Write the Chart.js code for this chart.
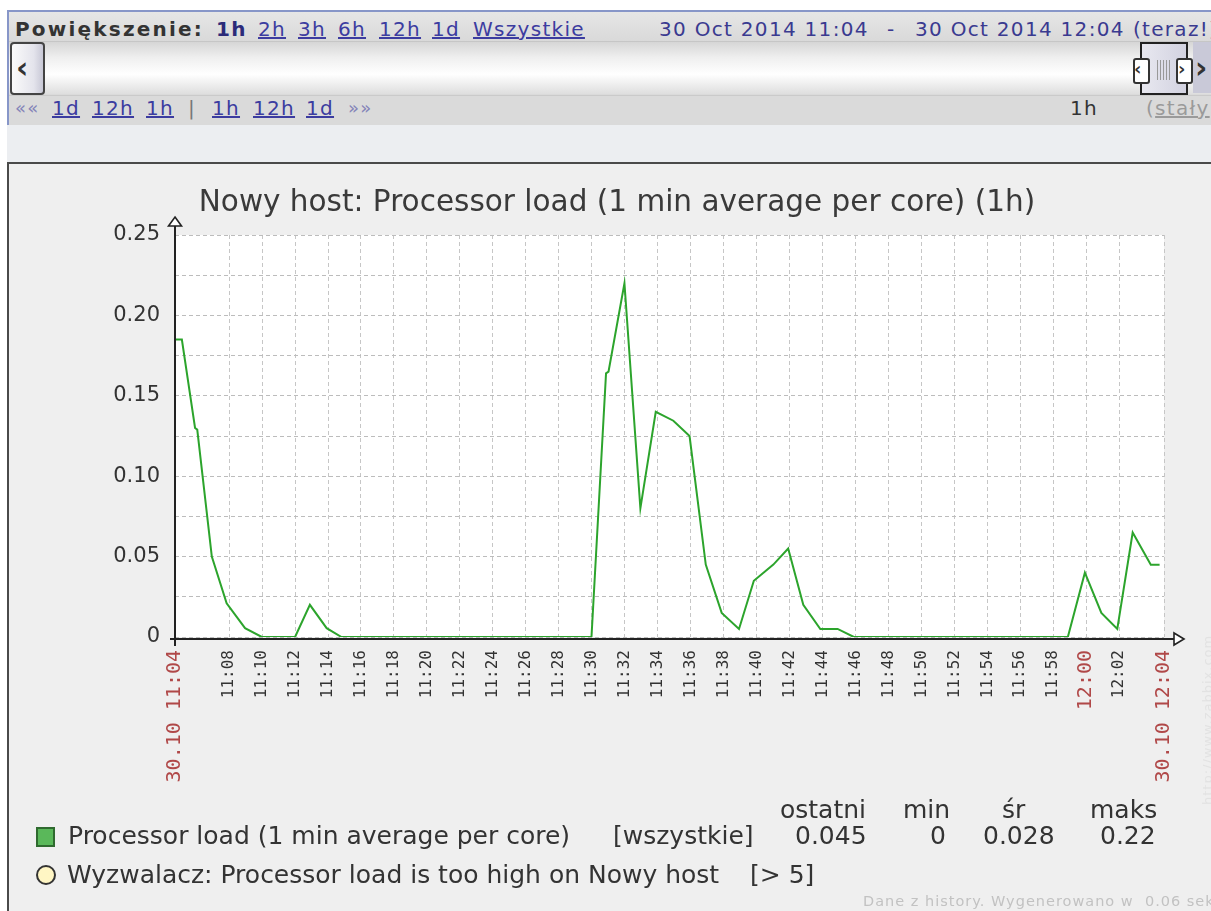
<!DOCTYPE html>
<html><head><meta charset="utf-8">
<script src="https://cdn.jsdelivr.net/npm/chart.js@4/dist/chart.umd.min.js"></script>
<style>
html,body{margin:0;padding:0;width:1211px;height:911px;overflow:hidden;background:#fff;font-family:"DejaVu Sans",sans-serif;}
.t{position:absolute;white-space:nowrap;}
.nav{font-size:20px;line-height:24px;letter-spacing:1.3px;}
.lnk{color:#3c3ca0;text-decoration:underline;}
#navbox{position:absolute;left:7px;top:10px;width:1230px;height:113px;border:2px solid #8796c8;background:#dadada;}
#r1{position:absolute;left:0;top:0;width:100%;height:29px;background:linear-gradient(#e6e6e6,#d9d9d9);border-bottom:1px solid #c6c6c6;}
#r2{position:absolute;left:0;top:30px;width:100%;height:52px;background:linear-gradient(#d6d6d6 0%,#efefef 30%,#ffffff 62%,#dedede 100%);}
#r3{position:absolute;left:0;top:83px;width:100%;height:30px;background:#dadada;border-top:1px solid #cacaca;}
#gap{position:absolute;left:7px;top:125px;width:1204px;height:37px;background:#eceef1;}
#box{position:absolute;left:7px;top:162px;width:1210px;height:760px;border-left:2px solid #4a4a4a;border-top:2px solid #4a4a4a;background:#efefef;}
#cv{position:absolute;left:9px;top:164px;}
.lg{font-size:25px;line-height:30px;color:#333;}
</style></head>
<body>
<div id="navbox"><div id="r1"></div><div id="r2"></div><div id="r3"></div></div>
<!-- scrollbar left button -->
<div class="t" style="left:10px;top:42px;width:31px;height:49px;border:2px solid #444;border-radius:4px;background:linear-gradient(90deg,#fafafa,#e4e4ec 70%,#c8c8d6);"></div>
<div class="t" style="left:16px;top:50px;font:bold 30px 'DejaVu Sans';color:#333;">&lsaquo;</div>
<!-- slider handle -->
<div class="t" style="left:1140px;top:42px;width:44px;height:49px;border:2px solid #222;background:linear-gradient(90deg,#e8e8f0,#d2d2e0);"></div>
<div class="t" style="left:1157px;top:60px;width:15px;height:20px;background:repeating-linear-gradient(90deg,#999 0 1px,transparent 1px 3px);"></div>
<div class="t" style="left:1133px;top:58px;width:13px;height:22px;border:2px solid #333;border-radius:3px;background:#fff;"></div>
<div class="t" style="left:1134px;top:56px;font:bold 18px 'DejaVu Sans';color:#333;line-height:26px;">&lsaquo;</div>
<div class="t" style="left:1176px;top:58px;width:13px;height:22px;border:2px solid #333;border-radius:3px;background:#fff;"></div>
<div class="t" style="left:1178px;top:56px;font:bold 18px 'DejaVu Sans';color:#333;line-height:26px;">&rsaquo;</div>
<div class="t" style="left:1193px;top:42px;width:20px;height:51px;background:#c9c9d8;"></div>
<div class="t" style="left:1195px;top:50px;font:bold 30px 'DejaVu Sans';color:#333;">&rsaquo;</div>
<!-- row 1 -->
<div class="t nav" style="left:15px;top:17px;font-weight:bold;color:#333;letter-spacing:2.2px;">Powiększenie:</div>
<div class="t nav" style="left:216px;top:17px;font-weight:bold;color:#2b2b7a;">1h</div>
<div class="t nav lnk" style="left:258px;top:17px;">2h</div>
<div class="t nav lnk" style="left:298px;top:17px;">3h</div>
<div class="t nav lnk" style="left:338px;top:17px;">6h</div>
<div class="t nav lnk" style="left:379px;top:17px;">12h</div>
<div class="t nav lnk" style="left:432px;top:17px;">1d</div>
<div class="t nav lnk" style="left:473px;top:17px;">Wszystkie</div>
<div class="t nav" style="left:659px;top:17px;color:#3a3a90;">30 Oct 2014 11:04</div>
<div class="t nav" style="left:887px;top:17px;color:#3a3a90;">-</div>
<div class="t nav" style="left:915px;top:17px;color:#3a3a90;">30 Oct 2014 12:04</div>
<div class="t nav" style="left:1133px;top:17px;color:#3a3a90;">(teraz!)</div>
<!-- row 3 -->
<div class="t nav" style="left:15px;top:96px;color:#8484b8;font-size:18px;">««</div>
<div class="t nav lnk" style="left:52px;top:96px;">1d</div>
<div class="t nav lnk" style="left:92px;top:96px;">12h</div>
<div class="t nav lnk" style="left:146px;top:96px;">1h</div>
<div class="t nav" style="left:188px;top:96px;color:#777;">|</div>
<div class="t nav lnk" style="left:212px;top:96px;">1h</div>
<div class="t nav lnk" style="left:253px;top:96px;">12h</div>
<div class="t nav lnk" style="left:306px;top:96px;">1d</div>
<div class="t nav" style="left:348px;top:96px;color:#8484b8;font-size:18px;">»»</div>
<div class="t nav" style="left:1070px;top:96px;color:#333;">1h</div>
<div class="t nav" style="left:1146px;top:96px;color:#9a9a9a;">(<span style="text-decoration:underline">stały</span>)</div>

<div id="gap"></div>
<div id="box"></div>
<canvas id="cv" width="1202" height="747"></canvas>

<div class="t" id="title" style="left:617px;top:183px;transform:translateX(-50%);font-size:29.5px;line-height:36px;color:#3a3a3a;">Nowy host: Processor load (1 min average per core) (1h)</div>

<div class="t lg" style="left:780px;top:795px;" id="h0"></div>
<div class="t lg" style="left:903px;top:795px;" id="h1"></div>
<div class="t lg" style="left:1002px;top:795px;" id="h2"></div>
<div class="t lg" style="left:1090px;top:795px;" id="h3"></div>
<div class="t" style="left:36px;top:827px;width:15px;height:16px;background:#5ab85a;border:2px solid #2f6a2f;"></div>
<div class="t lg" style="left:68px;top:821px;" id="s0"></div>
<div class="t lg" style="left:613px;top:821px;">[wszystkie]</div>
<div class="t lg" style="left:795px;top:821px;" id="v0"></div>
<div class="t lg" style="left:930px;top:821px;" id="v1"></div>
<div class="t lg" style="left:983px;top:821px;" id="v2"></div>
<div class="t lg" style="left:1100px;top:821px;" id="v3"></div>
<div class="t" style="left:36px;top:865px;width:16px;height:16px;border-radius:50%;background:#fff6c4;border:2px solid #333;"></div>
<div class="t lg" style="left:67px;top:860px;">Wyzwalacz: Processor load is too high on Nowy host</div>
<div class="t lg" style="left:750px;top:860px;">[&gt; 5]</div>
<div class="t" style="left:863px;top:892px;font-size:14.5px;line-height:18px;letter-spacing:1px;white-space:pre;color:#c2c2c2;">Dane z history. Wygenerowano w  0.06 sek</div>
<div class="t" style="left:1201px;top:805px;font-size:13px;line-height:14px;letter-spacing:1px;color:#e2e2e2;transform:rotate(-90deg);transform-origin:left top;">http://www.zabbix.com</div>

<script>
// ---- data ----
const seriesName = "Processor load (1 min average per core)";
const times = ["11:04:43","11:05:08","11:05:56","11:06:04","11:06:57","11:07:51","11:08:58","11:09:59",
  "11:10:59","11:12:00","11:12:54","11:13:55","11:14:49","11:15:55","11:16:55","11:17:55","11:18:55",
  "11:19:55","11:20:55","11:21:55","11:22:55","11:23:55","11:24:55","11:25:55","11:26:55","11:27:55",
  "11:28:55","11:29:59","11:30:52","11:31:01","11:31:59","11:32:57","11:33:53","11:34:57","11:35:56",
  "11:36:55","11:37:53","11:38:56","11:39:50","11:41:01","11:41:55","11:42:50","11:43:52","11:44:55",
  "11:45:54","11:46:55","11:47:55","11:48:55","11:49:55","11:50:55","11:51:55","11:52:55","11:53:55",
  "11:54:55","11:55:55","11:56:55","11:57:55","11:58:53","11:59:55","12:00:55","12:01:53","12:02:49",
  "12:03:55","12:04:27"];
const load = [0.185,0.185,0.130,0.129,0.050,0.021,0.0055,0,
  0,0,0.020,0.0055,0,0,0,0,0,
  0,0,0,0,0,0,0,0,0,
  0,0,0.164,0.165,0.220,0.080,0.140,0.1345,0.125,
  0.045,0.015,0.005,0.035,0.045,0.055,0.020,0.005,0.005,
  0,0,0,0,0,0,0,0,0,
  0,0,0,0,0,0.040,0.015,0.005,0.065,
  0.045,0.045];
const rangeStart = "11:04:43";
const rangeEnd = "12:04:43";
const xTickTimes = ["11:04:43","11:08:00","11:10:00","11:12:00","11:14:00","11:16:00","11:18:00","11:20:00",
  "11:22:00","11:24:00","11:26:00","11:28:00","11:30:00","11:32:00","11:34:00","11:36:00","11:38:00",
  "11:40:00","11:42:00","11:44:00","11:46:00","11:48:00","11:50:00","11:52:00","11:54:00","11:56:00",
  "11:58:00","12:00:00","12:02:00","12:04:43"];
const xTickLabels = ["30.10 11:04","11:08","11:10","11:12","11:14","11:16","11:18","11:20",
  "11:22","11:24","11:26","11:28","11:30","11:32","11:34","11:36","11:38",
  "11:40","11:42","11:44","11:46","11:48","11:50","11:52","11:54","11:56",
  "11:58","12:00","12:02","30.10 12:04"];
const redTickLabels = ["30.10 11:04","12:00","30.10 12:04"];
const yTicks = [0,0.025,0.05,0.075,0.10,0.125,0.15,0.175,0.20,0.225,0.25];
const yTickLabels = ["0","","0.05","","0.10","","0.15","","0.20","","0.25"];
const statHeaders = ["ostatni","min","śr","maks"];
const statValues = ["0.045","0","0.028","0.22"];

// ---- legend text ----
document.getElementById('s0').textContent = seriesName;
statHeaders.forEach((h,i)=>document.getElementById('h'+i).textContent=h);
statValues.forEach((v,i)=>document.getElementById('v'+i).textContent=v);

const toMin = s => { const [h,m,sec] = s.split(':').map(Number); return h*60 + m + sec/60 - 660; };
const points = times.map((t,i)=>({x: toMin(t), y: load[i]}));
const xTickVals = xTickTimes.map(toMin);

const bgPlugin = {
  id:'bg',
  beforeDraw(chart){
    const {ctx, chartArea:{left,top,right,bottom}} = chart;
    ctx.save(); ctx.fillStyle='#ffffff'; ctx.fillRect(left,top,right-left,bottom-top); ctx.restore();
  }
};
const axesPlugin = {
  id:'axes',
  afterDatasetsDraw(chart){
    const {ctx, chartArea:{left,top,right,bottom}} = chart;
    const ay = bottom + 2;
    ctx.save();
    ctx.strokeStyle='#222'; ctx.lineWidth=2;
    ctx.beginPath(); ctx.moveTo(left, bottom+9); ctx.lineTo(left, top-9); ctx.stroke();
    ctx.beginPath(); ctx.moveTo(left-5, ay); ctx.lineTo(right+10, ay); ctx.stroke();
    ctx.fillStyle='#fff'; ctx.lineWidth=1.6; ctx.lineJoin='miter';
    ctx.beginPath(); ctx.moveTo(left, top-18); ctx.lineTo(left+6.5, top-9); ctx.lineTo(left-6.5, top-9); ctx.closePath(); ctx.fill(); ctx.stroke();
    ctx.beginPath(); ctx.moveTo(right+20, ay); ctx.lineTo(right+10, ay-6); ctx.lineTo(right+10, ay+6); ctx.closePath(); ctx.fill(); ctx.stroke();
    ctx.restore();
  }
};

const isRed = idx => redTickLabels.includes(xTickLabels[idx]);

new Chart(document.getElementById('cv'), {
  type:'line',
  data:{ datasets:[{ label: seriesName, data: points, borderColor:'#2ca42c', borderWidth:2, pointRadius:0, tension:0, fill:false }]},
  options:{
    responsive:false, animation:false, devicePixelRatio:1,
    layout:{ padding:{ top:71, right:47, left:0, bottom:0 } },
    plugins:{ legend:{display:false}, tooltip:{enabled:false}, title:{display:false} },
    scales:{
      x:{ type:'linear', min: toMin(rangeStart), max: toMin(rangeEnd),
        afterBuildTicks: s => { s.ticks = xTickVals.map(v=>({value:v})); },
        afterFit: s => { s.height = 274; s.paddingLeft = 0; s.paddingRight = 0; },
        grid:{ color:'#c6c6c6', lineWidth:1, drawTicks:false },
        border:{ display:false, dash:[4,3] },
        ticks:{ autoSkip:false, minRotation:90, maxRotation:90, padding:13,
          callback:(v,i)=>xTickLabels[i],
          font: c => isRed(c.index) ? {family:'DejaVu Sans Mono', size:20} : {family:'DejaVu Sans Mono', size:16},
          color: c => isRed(c.index) ? '#b04848' : '#333333' }
      },
      y:{ min:0, max:0.25,
        afterBuildTicks: s => { s.ticks = yTicks.map(v=>({value:v})); },
        afterFit: s => { s.width = 166; s.paddingTop = 0; s.paddingBottom = 0; },
        grid:{ color:'#bcbcbc', lineWidth:1, drawTicks:false },
        border:{ display:false, dash:[4,3] },
        ticks:{ padding:15, font:{family:'DejaVu Sans', size:21}, color:'#333', callback:(v,i)=>yTickLabels[i] }
      }
    }
  },
  plugins:[bgPlugin, axesPlugin]
});
</script>
</body></html>
